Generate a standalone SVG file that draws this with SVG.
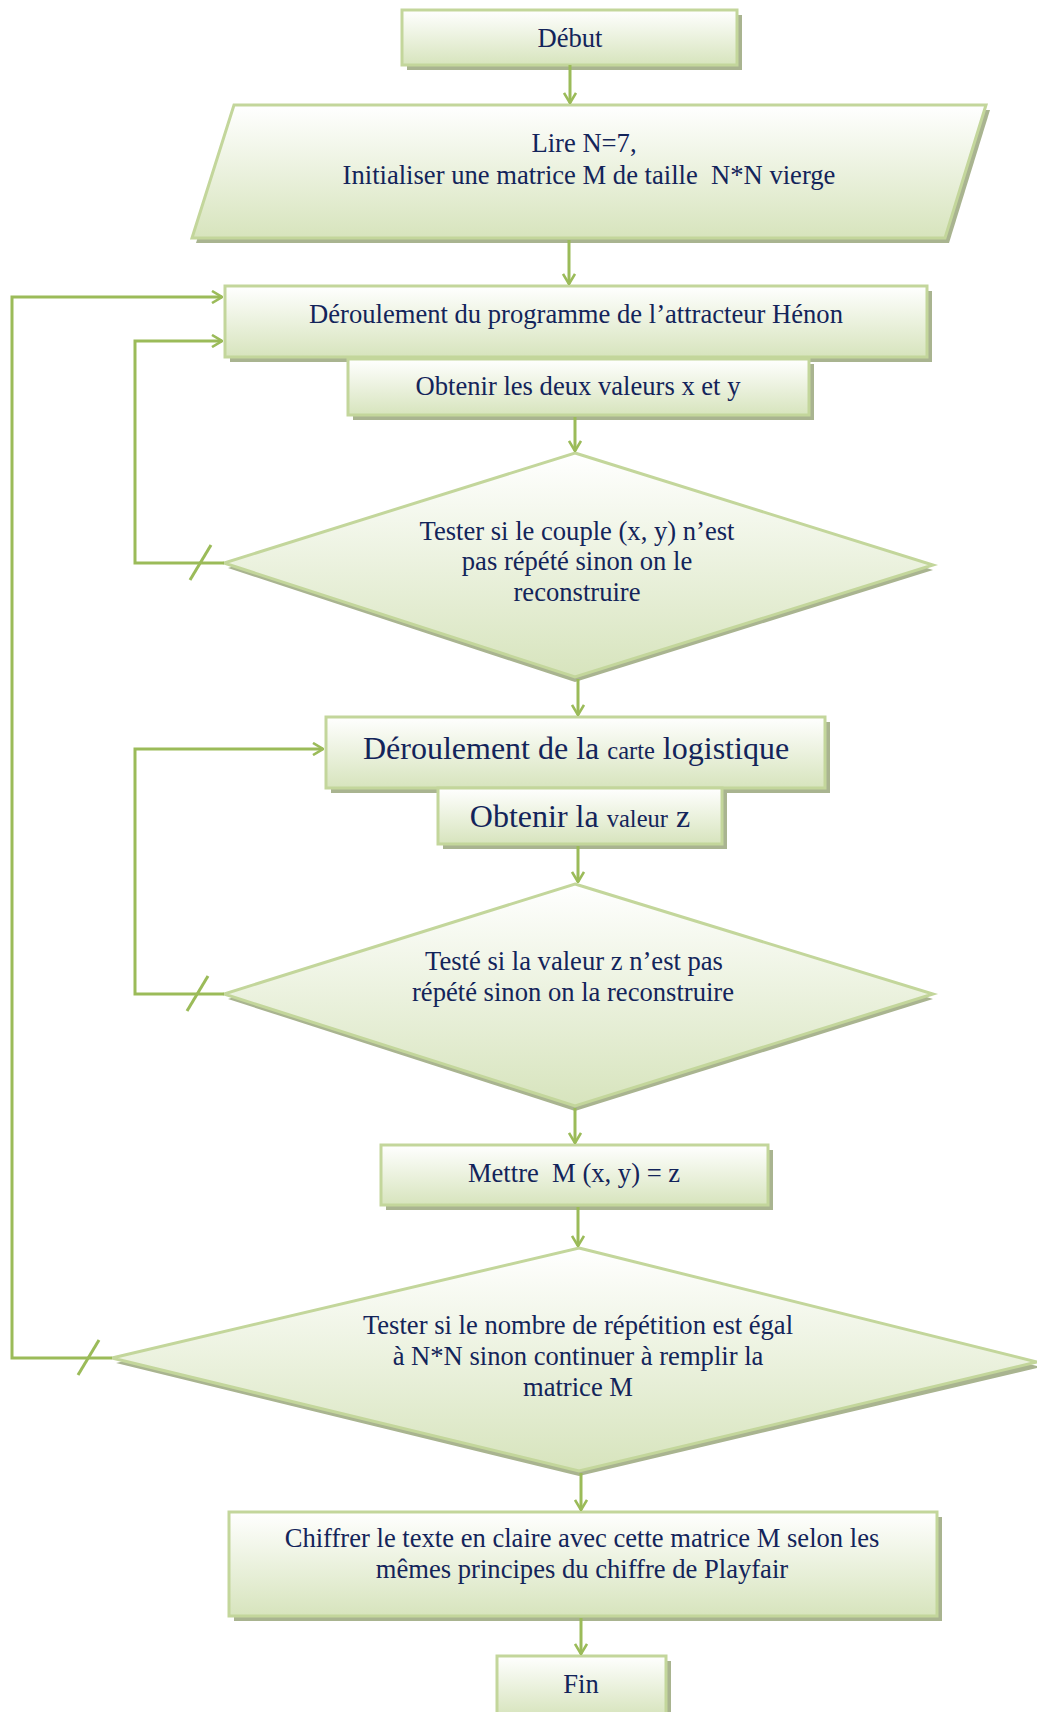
<svg xmlns="http://www.w3.org/2000/svg" width="1037" height="1712" viewBox="0 0 1037 1712">
<style>
.shape{fill:url(#g);stroke:#c3d69b;stroke-width:3}
.shadow{fill:#a9b490}
.t{font-family:"Liberation Serif","Times New Roman",serif;font-size:26.6px;fill:#13245a;text-anchor:middle}
.big{font-size:32px}
.sm{font-size:24.5px}
.c{fill:none;stroke:#9bbb59;stroke-width:3}
</style>
<defs>
<linearGradient id="g" x1="0" y1="0" x2="0" y2="1">
<stop offset="0" stop-color="#ffffff"/>
<stop offset="1" stop-color="#d7e4bd"/>
</linearGradient>
<marker id="a" viewBox="0 0 12 14" refX="11" refY="7" markerWidth="12" markerHeight="14" markerUnits="userSpaceOnUse" orient="auto">
<path d="M1,1 L11,7 L1,13" fill="none" stroke="#9bbb59" stroke-width="2.6"/>
</marker>
</defs>
<rect width="1037" height="1712" fill="#ffffff"/>

<g id="debut">
<rect class="shadow" x="407" y="15" width="335" height="55"/>
<rect class="shape" x="402" y="10" width="335" height="55"/>
<text class="t" x="570" y="47">Début</text>
</g>

<g id="lire">
<polygon class="shadow" points="238,110 990,110 949,243 196,243"/>
<polygon class="shape" points="234,105 986,105 945,238 192,238"/>
<text class="t" x="584" y="152">Lire N=7,</text>
<text class="t" x="589" y="184" xml:space="preserve">Initialiser une matrice M de taille  N*N vierge</text>
</g>

<g id="henon">
<rect class="shadow" x="230" y="291" width="702" height="71"/>
<rect class="shape" x="225" y="286" width="702" height="71"/>
<text class="t" x="576" y="323">Déroulement du programme de l’attracteur Hénon</text>
</g>

<g id="obtenir-xy">
<rect class="shadow" x="353" y="364" width="461" height="56"/>
<rect class="shape" x="348" y="359" width="461" height="56"/>
<text class="t" x="578" y="395">Obtenir les deux valeurs x et y</text>
</g>

<g id="test-xy">
<polygon class="shadow" points="575,458 933,570 575,682 228,568"/>
<polygon class="shape" points="575,453 933,565 575,677 224,563"/>
<text class="t" x="577" y="540">Tester si le couple (x, y) n’est</text>
<text class="t" x="577" y="570">pas répété sinon on le</text>
<text class="t" x="577" y="601">reconstruire</text>
</g>

<g id="logistique">
<rect class="shadow" x="331" y="722" width="499" height="71"/>
<rect class="shape" x="326" y="717" width="499" height="71"/>
<text class="t big" x="576" y="759">Déroulement de la <tspan class="sm">carte</tspan> logistique</text>
</g>

<g id="obtenir-z">
<rect class="shadow" x="443" y="793" width="284" height="56"/>
<rect class="shape" x="438" y="788" width="284" height="56"/>
<text class="t big" x="580" y="827">Obtenir la <tspan class="sm">valeur</tspan> z</text>
</g>

<g id="test-z">
<polygon class="shadow" points="575,889 933,999 575,1111 228,999"/>
<polygon class="shape" points="575,884 933,994 575,1106 224,994"/>
<text class="t" x="574" y="970">Testé si la valeur z n’est pas</text>
<text class="t" x="573" y="1001">répété sinon on la reconstruire</text>
</g>

<g id="mettre">
<rect class="shadow" x="386" y="1150" width="387" height="60"/>
<rect class="shape" x="381" y="1145" width="387" height="60"/>
<text class="t" x="574" y="1182" xml:space="preserve">Mettre  M (x, y) = z</text>
</g>

<g id="test-nn">
<polygon class="shadow" points="579,1253 1041,1367 579,1476 116,1363"/>
<polygon class="shape" points="579,1248 1037,1362 579,1471 112,1358"/>
<text class="t" x="578" y="1334">Tester si le nombre de répétition est égal</text>
<text class="t" x="578" y="1365">à N*N sinon continuer à remplir la</text>
<text class="t" x="578" y="1396">matrice M</text>
</g>

<g id="chiffrer">
<rect class="shadow" x="234" y="1517" width="708" height="104"/>
<rect class="shape" x="229" y="1512" width="708" height="104"/>
<text class="t" x="582" y="1547">Chiffrer le texte en claire avec cette matrice M selon les</text>
<text class="t" x="582" y="1578">mêmes principes du chiffre de Playfair</text>
</g>

<g id="fin">
<rect class="shadow" x="502" y="1661" width="169" height="60"/>
<rect class="shape" x="497" y="1656" width="169" height="60"/>
<text class="t" x="581" y="1693">Fin</text>
</g>

<g id="connectors">
<line class="c" x1="570" y1="65" x2="570" y2="103" marker-end="url(#a)"/>
<line class="c" x1="569" y1="240" x2="569" y2="284" marker-end="url(#a)"/>
<line class="c" x1="575" y1="417" x2="575" y2="451" marker-end="url(#a)"/>
<line class="c" x1="578" y1="679" x2="578" y2="715" marker-end="url(#a)"/>
<line class="c" x1="578" y1="846" x2="578" y2="882" marker-end="url(#a)"/>
<line class="c" x1="575" y1="1108" x2="575" y2="1143" marker-end="url(#a)"/>
<line class="c" x1="578" y1="1207" x2="578" y2="1246" marker-end="url(#a)"/>
<line class="c" x1="581" y1="1473" x2="581" y2="1510" marker-end="url(#a)"/>
<line class="c" x1="581" y1="1618" x2="581" y2="1654" marker-end="url(#a)"/>
<polyline class="c" points="224,563 135,563 135,341 222,341" marker-end="url(#a)"/>
<polyline class="c" points="224,994 135,994 135,749 323,749" marker-end="url(#a)"/>
<polyline class="c" points="112,1358 12,1358 12,297 222,297" marker-end="url(#a)"/>
<line class="c" x1="190" y1="580" x2="211" y2="545"/>
<line class="c" x1="187" y1="1011" x2="208" y2="976"/>
<line class="c" x1="78" y1="1375" x2="99" y2="1340"/>
</g>
</svg>
